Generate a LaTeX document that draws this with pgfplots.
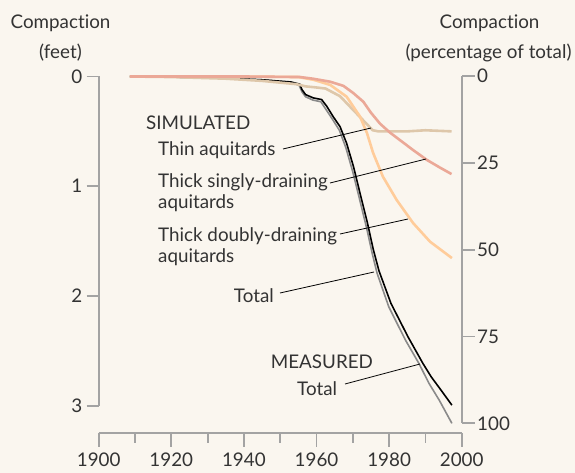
\documentclass[border=0pt]{standalone}
\usepackage{pgfplots}
\pgfplotsset{compat=1.18}
\usepackage{fontspec}
\setmainfont{Lato}[Ligatures={NoCommon,NoDiscretionary,NoRare}]
\definecolor{bgc}{HTML}{FAF6EF}
\definecolor{axc}{HTML}{A3A3A3}
\definecolor{txt}{HTML}{333333}
\definecolor{coral}{HTML}{EBA897}
\definecolor{peach}{HTML}{FFCC9A}
\definecolor{tan}{HTML}{DEC7AA}
\definecolor{greyl}{HTML}{8A8A8A}
\newcommand{\fs}{\fontsize{18.8}{22}\selectfont}
\begin{document}
\begin{tikzpicture}
\fill[bgc] (0pt,0pt) rectangle (575pt,473pt);
\pgfplotsset{
  base/.style={scale only axis, clip=false, axis line style={axc, line width=1.8pt, -},
    major tick style={axc, line width=1.8pt}, minor tick style={axc, line width=1.8pt},
    tick align=outside, ticklabel style={font=\fs, text=txt},
    /pgf/number format/assume math mode=true, /pgf/number format/1000 sep={}}
}
% left axis (feet) with data
\begin{axis}[base, at={(98.7pt,396.5pt)}, anchor=north west, width=363pt, height=329.2pt,
  xmin=1900, xmax=2000, ymin=0, ymax=3, y dir=reverse,
  axis x line=none, axis y line*=left, ytick={0,1,2,3}, major tick length=12pt,
  yticklabel style={xshift=-1pt}]
\addplot[greyl, line width=1.6pt] coordinates {(1908.6,0)(1930,0.01)(1945,0.03)(1953,0.055)(1955.2,0.08)(1956,0.14)(1957,0.185)(1959,0.215)(1961.2,0.23)(1962.6,0.3)(1964.4,0.39)(1966.3,0.49)(1968.1,0.65)(1970,0.87)(1971.8,1.11)(1973.8,1.38)(1975.4,1.62)(1976.7,1.794)(1979.9,2.098)(1984.5,2.402)(1988.2,2.614)(1991,2.797)(1993.8,2.949)(1997.3,3.161)};
\addplot[black, line width=1.6pt] coordinates {(1908.6,0)(1930,0.01)(1945,0.03)(1953,0.05)(1955.4,0.07)(1956,0.12)(1957,0.165)(1959.1,0.195)(1961.4,0.21)(1962.8,0.27)(1964.6,0.366)(1966.5,0.458)(1968.3,0.609)(1970.2,0.822)(1972,1.065)(1974,1.33)(1975.6,1.57)(1977.2,1.77)(1980.5,2.067)(1985.2,2.372)(1989.3,2.614)(1991.6,2.737)(1994.3,2.858)(1997.3,2.995)};
\addplot[tan, line width=2.6pt] coordinates {(1908.6,0)(1920,0.005)(1935,0.02)(1945,0.04)(1954.5,0.07)(1957,0.09)(1960,0.10)(1962.5,0.11)(1966.5,0.18)(1970.1,0.305)(1972.8,0.397)(1975.5,0.49)(1977,0.5)(1985,0.5)(1990,0.49)(1997.2,0.5)};
\addplot[peach, line width=2.6pt] coordinates {(1908.6,0)(1940,0)(1955,0.005)(1959.2,0.03)(1963.8,0.077)(1968.3,0.184)(1972,0.366)(1973.9,0.515)(1975.6,0.697)(1978.3,0.913)(1982.1,1.126)(1986.6,1.335)(1991.3,1.506)(1997.3,1.655)};
\addplot[coral, line width=2.6pt] coordinates {(1908.6,0)(1940,0)(1955.5,0.005)(1959,0.02)(1963.7,0.047)(1967.4,0.085)(1970.1,0.15)(1972.9,0.23)(1975,0.33)(1977.5,0.43)(1980.2,0.51)(1983,0.58)(1986.6,0.67)(1990.4,0.76)(1994,0.83)(1997.2,0.889)};
\end{axis}
% right axis (percentage)
\begin{axis}[base, at={(98.7pt,397pt)}, anchor=north west, width=363pt, height=347.3pt,
  xmin=1900, xmax=2000, ymin=0, ymax=100, y dir=reverse,
  axis x line=none, axis y line*=right, ytick={0,25,50,75,100}, major tick length=13pt,
  yticklabel style={xshift=-1pt}]
\end{axis}
% x axis
\begin{axis}[base, at={(98.7pt,40.3pt)}, anchor=south west, width=363pt, height=20pt,
  xmin=1900, xmax=2000, ymin=0, ymax=1,
  axis y line=none, axis x line*=bottom, xtick={1900,1920,...,2000},
  minor xtick={1910,1930,...,1990}, major tick length=14pt, minor tick length=10pt,
  xticklabel style={yshift=-3pt}]
\end{axis}
\begin{scope}[shift={(0pt,473pt)}, x=1pt, y=-1pt, every node/.style={font=\fs, text=txt, inner sep=0pt}]
\node[anchor=base] at (60.5,28.6) {Compaction};
\node[anchor=base] at (60.5,58.7) {(feet)};
\node[anchor=base] at (489.5,28.6) {Compaction};
\node[anchor=base] at (488.5,58.7) {(percentage of total)};
\node[anchor=base west] at (146,130) {SIMULATED};
\node[anchor=base west] at (158,155.7) {Thin aquitards};
\node[anchor=base west] at (158,187.7) {Thick singly-draining};
\node[anchor=base west] at (158,208.7) {aquitards};
\node[anchor=base west] at (158,242) {Thick doubly-draining};
\node[anchor=base west] at (158,263) {aquitards};
\node[anchor=base east] at (274,302.7) {Total};
\node[anchor=base west] at (270.7,369) {MEASURED};
\node[anchor=base west] at (297,395.7) {Total};
\draw[black, line width=0.8pt] (283,149) -- (371,128);
\draw[black, line width=0.8pt] (330,183) -- (426,159);
\draw[black, line width=0.8pt] (340,234) -- (408,219);
\draw[black, line width=0.8pt] (280,293) -- (374,272);
\draw[black, line width=0.8pt] (345,384) -- (420,364);
\end{scope}
\end{tikzpicture}
\end{document}
